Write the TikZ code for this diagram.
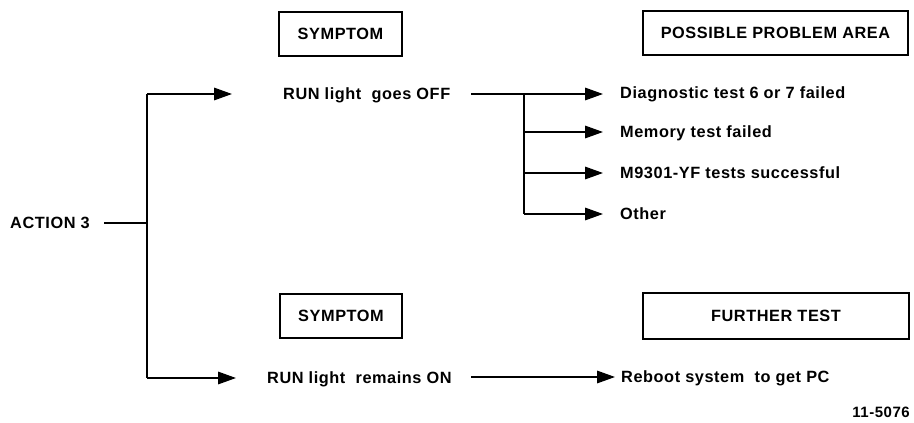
\documentclass[tikz,border=0pt]{standalone}
\usepackage{fontspec}
\setmainfont{Liberation Sans}[LetterSpace=3.5]
\usetikzlibrary{arrows.meta}
\begin{document}
\begin{tikzpicture}[x=1pt,y=-1pt,
  lbl/.style={font=\fontsize{16.3}{18}\selectfont\bfseries, inner sep=0pt, anchor=west, text height=11.7pt, text depth=0pt},
  hdr/.style={draw, line width=1.4pt, font=\fontsize{16.3}{18}\selectfont\bfseries, inner sep=0pt, text height=11.7pt, text depth=0pt},
  ln/.style={line width=1.7pt},
  arr/.style={line width=1.7pt, -{Triangle[length=18pt,width=12.5pt]}}
]
\useasboundingbox (0,0) rectangle (914,423);

% header boxes
\node[hdr, minimum width=123pt, minimum height=44pt] (sym1) at (340.5,34) {SYMPTOM};
\node[hdr, minimum width=265pt, minimum height=44pt] (ppa) at (775.5,33) {POSSIBLE PROBLEM AREA};
\node[hdr, minimum width=122pt, minimum height=44pt] (sym2) at (341,316) {SYMPTOM};
\node[hdr, minimum width=266pt, minimum height=46pt] (ft) at (776,316) {FURTHER TEST};

% labels
\node[lbl] (act) at (10,223) {ACTION 3};
\node[lbl] (off) at (283,94) {RUN light\ \ goes OFF};
\node[lbl] (on) at (267,378) {RUN light\ \ remains ON};
\node[lbl] (d1) at (620,93) {Diagnostic test 6 or 7 failed};
\node[lbl] (d2) at (620,132) {Memory test failed};
\node[lbl] (d3) at (620,173) {M9301-YF tests successful};
\node[lbl] (d4) at (620,214) {Other};
\node[lbl] (rb) at (621,377) {Reboot system\ \ to get PC};
\node[font=\fontsize{15}{17}\selectfont\bfseries, inner sep=0pt, anchor=east, text height=10.7pt, text depth=0pt] (num) at (910,412) {11-5076};

% junction coordinates
\coordinate (ja) at (147,223);
\coordinate (jt) at (147,94);
\coordinate (jb) at (147,378);
\coordinate (ta) at (232,94);
\coordinate (tb) at (236,378);
\coordinate (k1) at (524,94);
\coordinate (k2) at (524,132);
\coordinate (k3) at (524,173);
\coordinate (k4) at (524,214);
\coordinate (s1) at (471,94);
\coordinate (s2) at (471,377);

% connectors
\draw[ln] (act.east -| 104,0) -- (ja);
\draw[ln] (jt) -- (jb);
\draw[arr] (jt) -- (ta);
\draw[arr] (jb) -- (tb);
\draw[arr] (s1) -- (603,94);
\draw[ln] (k1) -- (k4);
\draw[arr] (k2) -- (603,132);
\draw[arr] (k3) -- (603,173);
\draw[arr] (k4) -- (603,214);
\draw[arr] (s2) -- ([xshift=-6pt]rb.west);
\end{tikzpicture}
\end{document}
